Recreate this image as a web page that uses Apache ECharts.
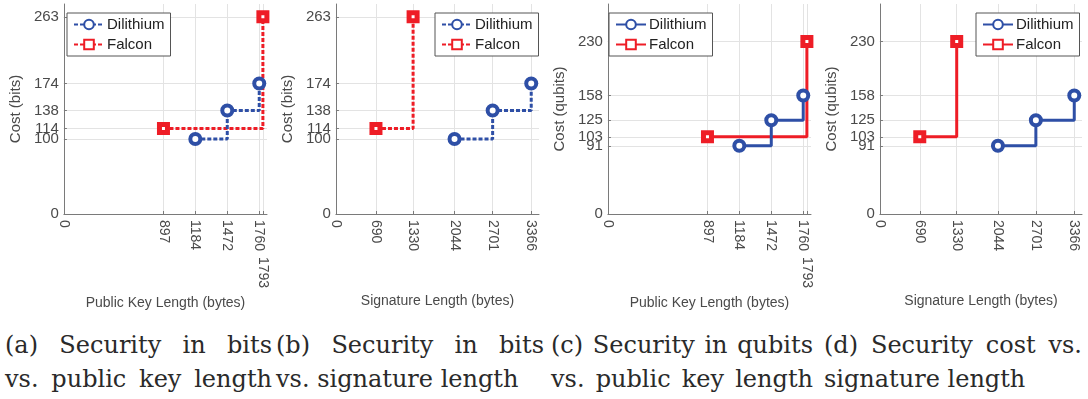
<!DOCTYPE html>
<html>
<head>
<meta charset="utf-8">
<script src="https://cdn.jsdelivr.net/npm/echarts@6/dist/echarts.min.js"></script>
<style>
  body { margin: 0; background: #fff; width: 1088px; height: 399px; overflow: hidden; position: relative; }
  .plot { position: absolute; top: 0; width: 272px; height: 325px; }
  .cap { position: absolute; top: 328px; font-family: 'DejaVu Serif', serif; font-size: 24px; color: #2a2a2a; line-height: 34px; white-space: nowrap; }
  .cap .j { text-align: justify; text-align-last: justify; }
</style>
</head>
<body>
<div id="a" class="plot" style="left:0px"></div>
<div id="b" class="plot" style="left:272px"></div>
<div id="c" class="plot" style="left:544px"></div>
<div id="d" class="plot" style="left:816px"></div>

<div class="cap" style="left:5px;width:267px"><div class="j">(a) Security in bits</div><div class="j">vs. public key length</div></div>
<div class="cap" style="left:276px;width:268px"><div class="j">(b) Security in bits</div><div>vs. signature length</div></div>
<div class="cap" style="left:551px;width:262px"><div class="j">(c) Security in qubits</div><div class="j">vs. public key length</div></div>
<div class="cap" style="left:824px;width:258px"><div class="j">(d) Security cost vs.</div><div>signature length</div></div>

<script>
// public key / signature sizes (bytes)
var dilPk = [1184, 1472, 1760];
var falPk = [897, 1793];
var dilSig = [2044, 2701, 3366];
var falSig = [690, 1330];
// security levels
var dilBits = [100, 138, 174];
var falBits = [114, 263];
var dilQubits = [91, 125, 158];
var falQubits = [103, 230];
// tick labels
var pkTicks = [0, 897, 1184, 1472, 1760, 1793];
var sigTicks = [0, 690, 1330, 2044, 2701, 3366];
var bitTicks = [0, 100, 114, 138, 174, 263];
var qubitTicks = [0, 91, 103, 125, 158, 230];

var BLUE = '#2e4fa6';
var RED = '#ee1d26';
var AXIS = '#7a7a7a';
var TXT = '#4a4a4a';
var FONT = 'Liberation Sans';

function pairs(xs, ys) {
    var out = [];
    xs.forEach(function (x, i) { out.push([x, ys[i]]); });
    return out;
}

function makeOption(cfg) {
    var lt = cfg.dotted ? [4, 2] : 'solid';
    return {
        animation: false,
        textStyle: { fontFamily: FONT },
        grid: { left: cfg.left, top: 4, width: cfg.width, height: 210 },
        legend: {
            orient: 'vertical',
            left: cfg.legLeft,
            top: 13,
            padding: [4, 6, 4, 6],
            itemGap: 5,
            itemWidth: 30,
            itemHeight: 12,
            borderColor: '#555',
            borderWidth: 1,
            borderRadius: 0,
            backgroundColor: '#fff',
            textStyle: { fontSize: 15, color: '#222', fontFamily: FONT, padding: [0, 0, 0, -2] },
            data: ['Dilithium', 'Falcon']
        },
        xAxis: {
            type: 'value',
            min: 0,
            max: cfg.xmax,
            name: cfg.xname,
            nameLocation: 'middle',
            nameGap: 80,
            nameTextStyle: { fontSize: 14, color: TXT },
            axisLine: { show: true, lineStyle: { color: AXIS } },
            axisTick: { show: true, inside: true, length: 3, lineStyle: { color: AXIS }, customValues: cfg.xticks },
            axisLabel: {
                customValues: cfg.xticks,
                rotate: -90,
                fontSize: 14,
                color: TXT,
                margin: 6,
                formatter: function (v) { return v === 1793 ? '{p|1793}' : String(v); },
                rich: { p: { padding: [0, 0, 0, 37], fontSize: 14, color: TXT } }
            },
            splitLine: { show: true, lineStyle: { color: '#e3e3e3', width: 1 } }
        },
        yAxis: {
            type: 'value',
            min: 0,
            max: 280,
            name: cfg.yname,
            nameLocation: 'middle',
            nameGap: cfg.nameGap,
            nameTextStyle: { fontSize: 15, color: TXT },
            axisLine: { show: true, lineStyle: { color: AXIS } },
            axisTick: { show: true, inside: true, length: 3, lineStyle: { color: AXIS }, customValues: cfg.yticks },
            axisLabel: { customValues: cfg.yticks, fontSize: 15, color: TXT, margin: 5 },
            splitLine: { show: true, lineStyle: { color: '#e3e3e3', width: 1 } }
        },
        series: [
            {
                name: 'Dilithium',
                type: 'line',
                step: 'end',
                data: cfg.dil,
                symbol: 'circle',
                symbolSize: 10,
                itemStyle: { color: '#fff', borderColor: BLUE, borderWidth: 4 },
                lineStyle: { color: BLUE, width: 3, type: lt },
                z: 3
            },
            {
                name: 'Falcon',
                type: 'line',
                step: 'end',
                data: cfg.fal,
                symbol: 'rect',
                symbolSize: 8,
                itemStyle: { color: '#fff', borderColor: RED, borderWidth: 5 },
                lineStyle: { color: RED, width: 3, type: lt },
                z: 2
            }
        ]
    };
}

var charts = [
    { id: 'a', left: 60, width: 207, xmax: 1830, legLeft: 67, nameGap: 37, dotted: true,
      xname: 'Public Key Length (bytes)', yname: 'Cost (bits)', xticks: pkTicks, yticks: bitTicks,
      dil: pairs(dilPk, dilBits), fal: pairs(falPk, falBits) },
    { id: 'b', left: 59, width: 208, xmax: 3500, legLeft: 163, nameGap: 37, dotted: true,
      xname: 'Signature Length (bytes)', yname: 'Cost (bits)', xticks: sigTicks, yticks: bitTicks,
      dil: pairs(dilSig, dilBits), fal: pairs(falSig, falBits) },
    { id: 'c', left: 57, width: 210, xmax: 1830, legLeft: 65, nameGap: 36, dotted: false,
      xname: 'Public Key Length (bytes)', yname: 'Cost (qubits)', xticks: pkTicks, yticks: qubitTicks,
      dil: pairs(dilPk, dilQubits), fal: pairs(falPk, falQubits) },
    { id: 'd', left: 56, width: 210, xmax: 3500, legLeft: 160, nameGap: 36, dotted: false,
      xname: 'Signature Length (bytes)', yname: 'Cost (qubits)', xticks: sigTicks, yticks: qubitTicks,
      dil: pairs(dilSig, dilQubits), fal: pairs(falSig, falQubits) }
];

charts.forEach(function (cfg) {
    var chart = echarts.init(document.getElementById(cfg.id));
    chart.setOption(makeOption(cfg));
});
</script>
</body>
</html>
